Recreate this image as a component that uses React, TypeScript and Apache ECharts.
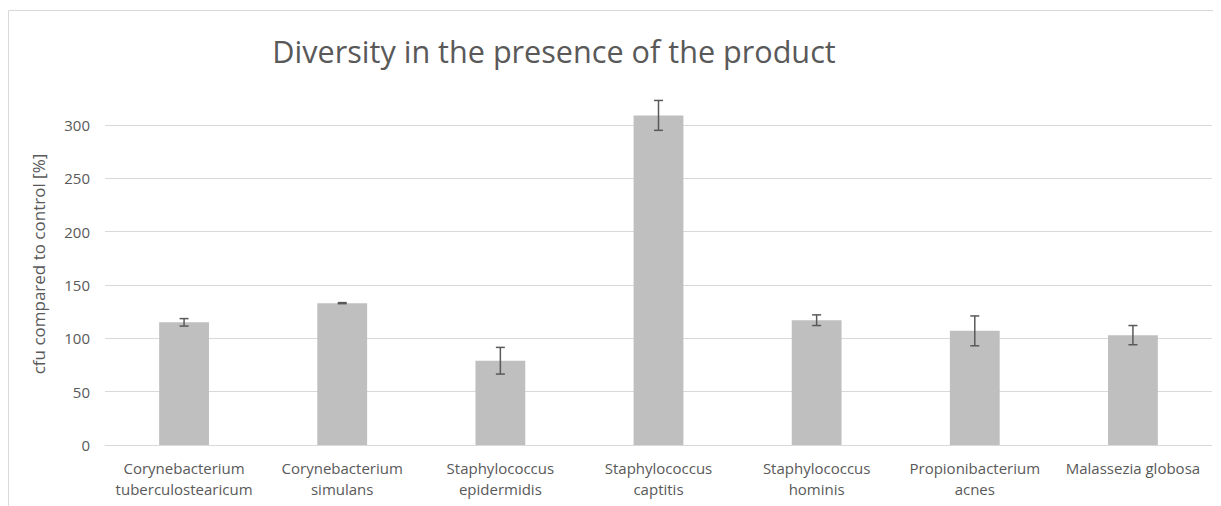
import React, { useEffect, useRef } from "react";
import * as echarts from "echarts";

const categories = [
  "Corynebacterium\ntuberculostearicum",
  "Corynebacterium\nsimulans",
  "Staphylococcus\nepidermidis",
  "Staphylococcus\ncaptitis",
  "Staphylococcus\nhominis",
  "Propionibacterium\nacnes",
  "Malassezia globosa",
];
const values = [115, 133, 79, 309, 117, 107, 103];
const errors = [3.5, 0.5, 12.5, 14, 5, 14, 9];
const yTicks = [0, 50, 100, 150, 200, 250, 300];
const yAxisTitle = "cfu compared to control [%]";

const TEXT = "#595959";
const FONT = "'Open Sans', 'Noto Sans', sans-serif";

export default function App() {
  const ref = useRef<HTMLDivElement>(null);
  useEffect(() => {
    if (!ref.current) return;
    const chart = echarts.init(ref.current, null, { renderer: "svg" });
    chart.setOption({
      animation: false,
      textStyle: { fontFamily: FONT },
      title: {
        text: "Diversity in the presence of the product",
        left: 541,
        top: 22,
        textAlign: "center",
        textStyle: { fontFamily: FONT, fontSize: 30.6, fontWeight: "normal", color: TEXT },
      },
      graphic: [
        {
          type: "rect",
          shape: { x: 0.5, y: 2.5, width: 1400, height: 700 },
          style: { fill: "none", stroke: "#d9d9d9", lineWidth: 1 },
          silent: true,
        },
        {
          type: "text",
          x: 30,
          y: 256,
          rotation: Math.PI / 2,
          style: {
            text: yAxisTitle,
            fill: TEXT,
            fontSize: 17,
            fontFamily: FONT,
            align: "center",
            verticalAlign: "middle",
          },
        },
      ],
      grid: { left: 97, right: 9, top: 117, bottom: 61 },
      xAxis: {
        type: "category",
        data: categories,
        axisTick: { show: false },
        axisLine: { lineStyle: { color: "#d9d9d9" } },
        axisLabel: { color: TEXT, fontSize: 15, lineHeight: 21, margin: 12, interval: 0, fontFamily: FONT },
      },
      yAxis: {
        type: "value",
        min: yTicks[0],
        max: yTicks[yTicks.length - 1],
        interval: 50,
        axisLine: { show: false },
        axisTick: { show: false },
        axisLabel: { color: TEXT, fontSize: 15, margin: 15, fontFamily: FONT },
        splitLine: { lineStyle: { color: "#d9d9d9", width: 1 } },
      },
      series: [
        {
          type: "bar",
          data: values,
          barWidth: "31.5%",
          clip: false,
          itemStyle: { color: "#bfbfbf" },
        },
        {
          type: "custom",
          clip: false,
          z: 10,
          data: values.map((v, i) => [i, v - errors[i], v + errors[i]]),
          renderItem: (params: any, api: any) => {
            const x = api.value(0);
            const lo = api.coord([x, api.value(1)]);
            const hi = api.coord([x, api.value(2)]);
            const cap = 4.5;
            const style = { stroke: "#595959", lineWidth: 1.5 };
            return {
              type: "group",
              children: [
                { type: "line", shape: { x1: lo[0], y1: lo[1], x2: hi[0], y2: hi[1] }, style },
                { type: "line", shape: { x1: lo[0] - cap, y1: lo[1], x2: lo[0] + cap, y2: lo[1] }, style },
                { type: "line", shape: { x1: hi[0] - cap, y1: hi[1], x2: hi[0] + cap, y2: hi[1] }, style },
              ],
            };
          },
        },
      ],
    });
    return () => chart.dispose();
  }, []);
  return <div ref={ref} style={{ width: 1213, height: 498 }} />;
}
